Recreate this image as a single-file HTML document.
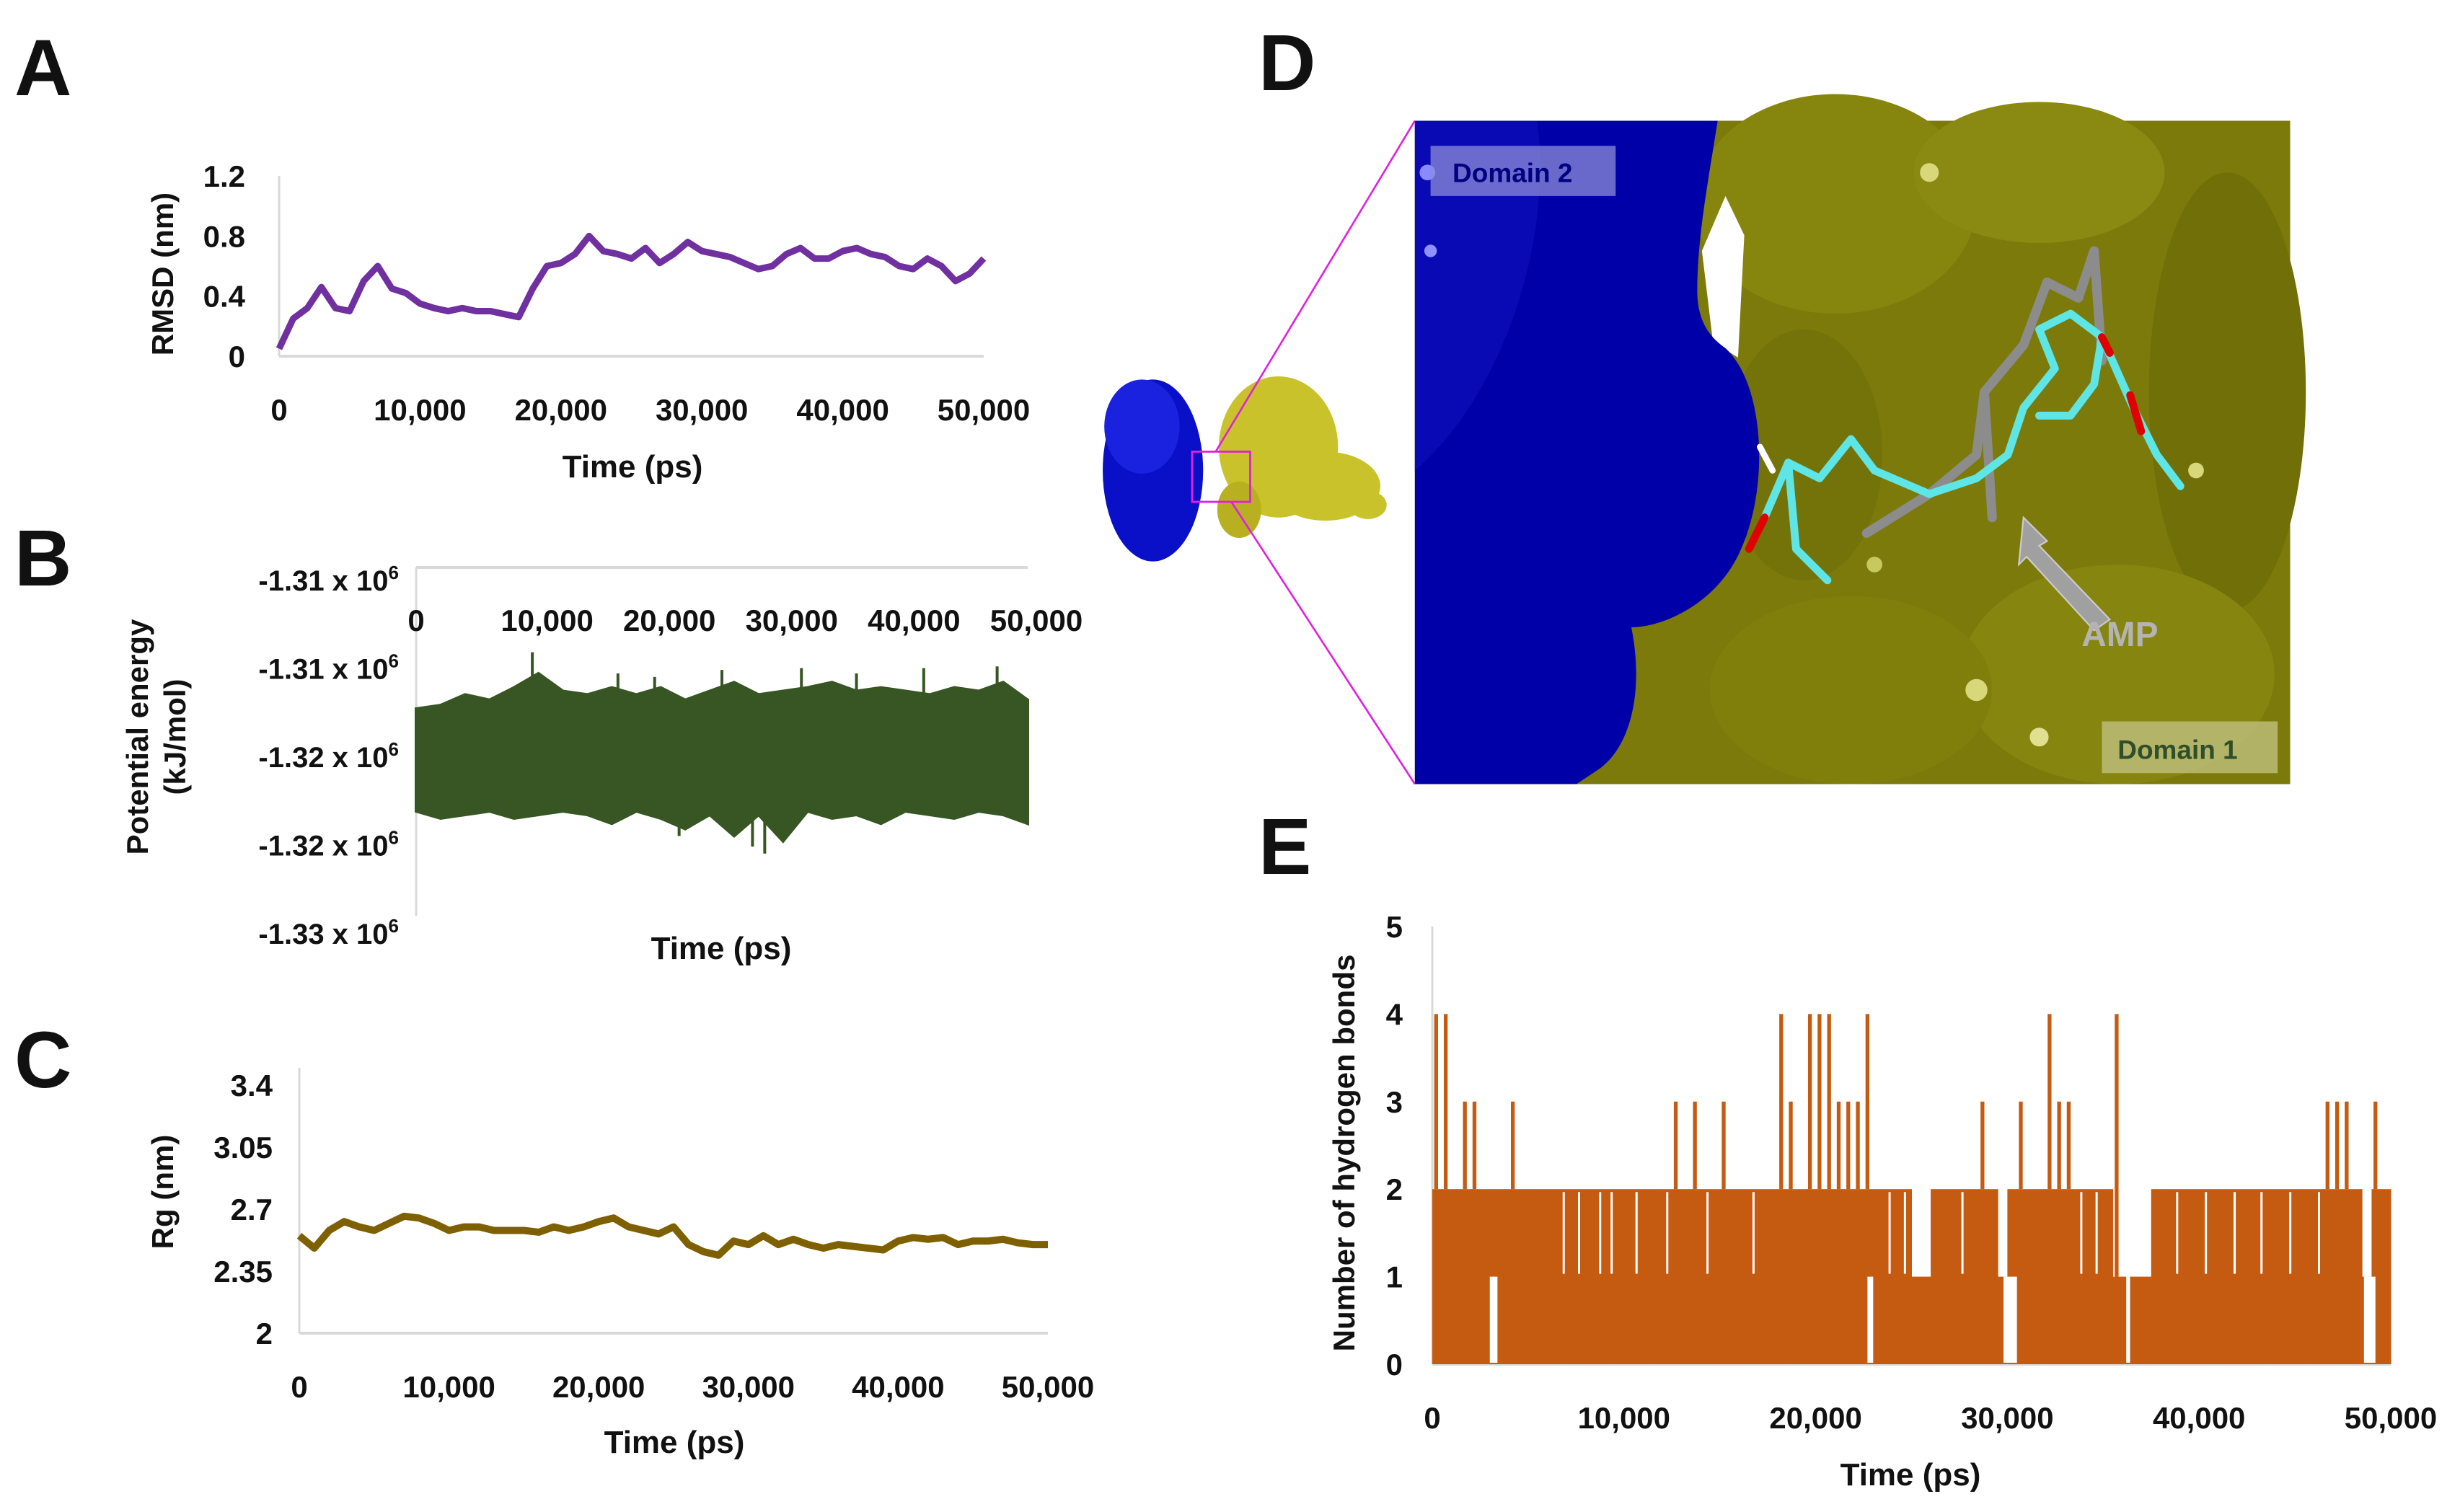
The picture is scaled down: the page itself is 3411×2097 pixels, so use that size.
<!DOCTYPE html>
<html><head><meta charset="utf-8"><style>
html,body{margin:0;padding:0;background:#fff}
svg{display:block}
text{font-family:"Liberation Sans",sans-serif;font-weight:bold;fill:#111}
</style></head><body>
<svg id="fig" width="3411" height="2097" viewBox="0 0 3411 2097" xmlns="http://www.w3.org/2000/svg">
<rect width="3411" height="2097" fill="#fff"/>
<text x="20" y="132" font-size="110">A</text>
<text x="20" y="812" font-size="110">B</text>
<text x="20" y="1508" font-size="110">C</text>
<text x="1745" y="125" font-size="110">D</text>
<text x="1745" y="1212" font-size="110">E</text>
<g id="gA"></g>
<g id="gB"></g>
<g id="gC"></g>
<g id="gE"></g>
<g id="gD" transform="scale(2.175)">
  <g>
    <ellipse cx="735" cy="300" rx="32" ry="58" fill="#0a10c8"/>
    <ellipse cx="728" cy="272" rx="24" ry="30" fill="#1a22e0"/>
    <ellipse cx="815" cy="285" rx="38" ry="45" fill="#c9c22a"/>
    <ellipse cx="845" cy="310" rx="35" ry="22" fill="#c9c22a"/>
    <ellipse cx="872" cy="322" rx="12" ry="9" fill="#c9c22a"/>
    <ellipse cx="790" cy="325" rx="14" ry="18" fill="#b8b020"/>
  </g>
  <rect x="760" y="288" width="37" height="32" fill="none" stroke="#e020e0" stroke-width="1.3"/>
  <line x1="775" y1="288" x2="902" y2="77" stroke="#e020e0" stroke-width="1.2"/>
  <line x1="785" y1="320" x2="902" y2="500" stroke="#e020e0" stroke-width="1.2"/>
  <g>
    <rect x="902" y="77" width="558" height="423" fill="#7b7a0a"/>
    <ellipse cx="1170" cy="130" rx="90" ry="70" fill="#86850e"/>
    <ellipse cx="1300" cy="110" rx="80" ry="45" fill="#8a8912"/>
    <ellipse cx="1420" cy="250" rx="50" ry="140" fill="#706f08"/>
    <ellipse cx="1350" cy="430" rx="100" ry="70" fill="#86850f"/>
    <ellipse cx="1180" cy="440" rx="90" ry="60" fill="#807f0c"/>
    <ellipse cx="1150" cy="290" rx="50" ry="80" fill="#747309"/>
    <circle cx="1230" cy="110" r="6" fill="#d8d87a"/>
    <circle cx="1400" cy="300" r="5" fill="#d8d87a"/>
    <circle cx="1260" cy="440" r="7" fill="#d8d87a"/>
    <circle cx="1300" cy="470" r="6" fill="#e0e090"/>
    <circle cx="1195" cy="360" r="5" fill="#c8c860"/>
    <path d="M1085,160 L1100,125 L1112,150 L1108,228 L1092,218 Z" fill="#ffffff"/>
    <path d="M902,77 L1095,77 C1090,110 1082,150 1082,185 C1082,205 1090,215 1100,222 C1125,245 1128,310 1110,350 C1095,385 1060,400 1040,400 C1048,440 1040,475 1020,490 L1005,500 L902,500 Z" fill="#0000a8"/>
    <path d="M902,77 L980,77 C990,150 960,250 902,300 Z" fill="#0a0ab4"/>
    <circle cx="912" cy="160" r="4" fill="#9090ff"/>
    <circle cx="910" cy="110" r="5" fill="#8a8aff"/>
    <g fill="none" stroke-linecap="round" stroke-linejoin="round">
      <polyline points="1190,340 1230,315 1260,290 1265,250 1290,220 1305,180" stroke="#8c8c8c" stroke-width="6"/>
      <polyline points="1265,250 1270,330" stroke="#8c8c8c" stroke-width="6"/>
      <polyline points="1305,180 1325,190 1335,160 1340,230" stroke="#8c8c8c" stroke-width="6"/>
      <polyline points="1125,330 1140,295 1160,305 1180,280 1195,300 1230,315" stroke="#5ee6e6" stroke-width="5"/>
      <polyline points="1140,295 1145,350 1165,370" stroke="#5ee6e6" stroke-width="5"/>
      <polyline points="1230,315 1260,305 1280,290 1290,260 1310,235 1300,210 1320,200 1340,215 1335,245 1320,265 1300,265" stroke="#5ee6e6" stroke-width="5"/>
      <polyline points="1340,215 1360,260 1375,290 1390,310" stroke="#5ee6e6" stroke-width="5"/>
      <polyline points="1115,350 1125,330" stroke="#e00000" stroke-width="5"/>
      <polyline points="1340,215 1345,225" stroke="#e00000" stroke-width="5"/>
      <polyline points="1358,252 1365,275" stroke="#e00000" stroke-width="5"/>
      <polyline points="1122,285 1130,300 M1395,315 1405,300 M1160,370 1162,385 M1280,220 1295,210" stroke="#ffffff" stroke-width="4"/>
    </g>
    <polygon points="1290,330 1305,345 1300,348 1345,395 1335,402 1292,355 1287,360" fill="#a0a0a0" stroke="#ccc" stroke-width="1"/>
    <text x="1327" y="412" font-size="22" style="fill:#b4b4b4">AMP</text>
    <rect x="912" y="93" width="118" height="32" fill="#8c8cd8" opacity="0.75"/>
    <text x="926" y="116" font-size="17" style="fill:#000080">Domain 2</text>
    <rect x="1340" y="460" width="112" height="33" fill="#bcbc78" opacity="0.85"/>
    <text x="1350" y="484" font-size="17" style="fill:#2f4f2a">Domain 1</text>
  </g>
</g>
</svg>
<script>
const NS="http://www.w3.org/2000/svg";
// ---- data ----
const timeTicks=[0,10000,20000,30000,40000,50000];
const timeTickLabels=["0","10,000","20,000","30,000","40,000","50,000"];
const rmsdTime=[0,1000,2000,3000,4000,5000,6000,7000,8000,9000,10000,11000,12000,13000,14000,15000,16000,17000,18000,19000,20000,21000,22000,23000,24000,25000,26000,27000,28000,29000,30000,31000,32000,33000,34000,35000,36000,37000,38000,39000,40000,41000,42000,43000,44000,45000,46000,47000,48000,49000,50000];
const rmsdValues=[0.05,0.25,0.32,0.46,0.32,0.3,0.5,0.6,0.45,0.42,0.35,0.32,0.3,0.32,0.3,0.3,0.28,0.26,0.45,0.6,0.62,0.68,0.8,0.7,0.68,0.65,0.72,0.62,0.68,0.76,0.7,0.68,0.66,0.62,0.58,0.6,0.68,0.72,0.65,0.65,0.7,0.72,0.68,0.66,0.6,0.58,0.65,0.6,0.5,0.55,0.65];
const rmsdTicks=[0,0.4,0.8,1.2];
const rmsdTickLabels=["0","0.4","0.8","1.2"];
const rgValues=[2.55,2.48,2.58,2.63,2.6,2.58,2.62,2.66,2.65,2.62,2.58,2.6,2.6,2.58,2.58,2.58,2.57,2.6,2.58,2.6,2.63,2.65,2.6,2.58,2.56,2.6,2.5,2.46,2.44,2.52,2.5,2.55,2.5,2.53,2.5,2.48,2.5,2.49,2.48,2.47,2.52,2.54,2.53,2.54,2.5,2.52,2.52,2.53,2.51,2.5,2.5];
const rgTicks=[2,2.35,2.7,3.05,3.4];
const rgTickLabels=["2","2.35","2.7","3.05","3.4"];
const peTime=[0,2000,4000,6000,8000,10000,12000,14000,16000,18000,20000,22000,24000,26000,28000,30000,32000,34000,36000,38000,40000,42000,44000,46000,48000,50000];
const peTop=[-1.3180,-1.3178,-1.3172,-1.3175,-1.3168,-1.3160,-1.3170,-1.3172,-1.3168,-1.3172,-1.3168,-1.3175,-1.3170,-1.3165,-1.3172,-1.3170,-1.3168,-1.3165,-1.3170,-1.3168,-1.3170,-1.3172,-1.3168,-1.3170,-1.3165,-1.3175];
const peBottom=[-1.3238,-1.3242,-1.3240,-1.3238,-1.3242,-1.3240,-1.3238,-1.3240,-1.3245,-1.3238,-1.3242,-1.3248,-1.3240,-1.3252,-1.3240,-1.3255,-1.3238,-1.3242,-1.3240,-1.3245,-1.3238,-1.3240,-1.3242,-1.3238,-1.3240,-1.3245];
const peSpikeTime=[9500,16500,19500,25000,31500,36000,41500,47500,21500,27500,28500];
const peSpikeValue=[-1.3148,-1.3160,-1.3162,-1.3158,-1.3157,-1.3160,-1.3157,-1.3156,-1.3252,-1.3258,-1.3262];
const peTicks=[-1.31,-1.315,-1.32,-1.325,-1.33];
const peTickLabels=["-1.31","-1.31","-1.32","-1.32","-1.33"];
const hbBinStart=[0,500,1000,1500,2000,2500,3000,3500,4000,4500,5000,5500,6000,6500,7000,7500,8000,8500,9000,9500,10000,10500,11000,11500,12000,12500,13000,13500,14000,14500,15000,15500,16000,16500,17000,17500,18000,18500,19000,19500,20000,20500,21000,21500,22000,22500,23000,23500,24000,24500,25000,25500,26000,26500,27000,27500,28000,28500,29000,29500,30000,30500,31000,31500,32000,32500,33000,33500,34000,34500,35000,35500,36000,36500,37000,37500,38000,38500,39000,39500,40000,40500,41000,41500,42000,42500,43000,43500,44000,44500,45000,45500,46000,46500,47000,47500,48000,48500,49000,49500];
const hbBase=[2,2,2,2,2,2,2,2,2,2,2,2,2,2,2,2,2,2,2,2,2,2,2,2,2,2,2,2,2,2,2,2,2,2,2,2,2,2,2,2,2,2,2,2,2,2,2,2,2,2,1,1,2,2,2,2,2,2,2,1,2,2,2,2,2,2,2,2,2,2,2,1,1,1,1,2,2,2,2,2,2,2,2,2,2,2,2,2,2,2,2,2,2,2,2,2,2,1,2,2];
const hbPeak=[4,4,0,3,3,0,0,0,3,0,0,0,0,0,0,0,0,0,0,0,0,0,0,0,0,3,0,3,0,0,3,0,0,0,0,0,4,3,0,4,4,4,3,3,3,4,0,0,0,0,0,0,0,0,0,0,0,3,0,0,0,3,0,0,4,3,3,0,0,0,0,4,0,0,0,0,0,0,0,0,0,0,0,0,0,0,0,0,0,0,0,0,0,3,3,3,0,0,3,0];
const hbGapStart=[3000,22700,29800,48600,36200];
const hbGapEnd=[3400,23000,30500,49200,36400];
const hbUpperGapTime=[6800,7600,8700,9300,10600,12200,14300,16700,23800,24600,27600,33800,34600,38800,40300,41800,43200,44700,46200];
const hbTicks=[0,1,2,3,4,5];
// ---- helpers ----
function mk(p,tag,attrs){const e=document.createElementNS(NS,tag);for(const k in attrs)e.setAttribute(k,attrs[k]);p.appendChild(e);return e;}
function txt(p,x,y,s,size,anchor){const t=mk(p,"text",{x:x,y:y,"font-size":size,"text-anchor":anchor||"middle"});t.textContent=s;return t;}
function lin(d0,d1,r0,r1){return v=>r0+(v-d0)/(d1-d0)*(r1-r0);}
const AX="#d9d9d9";
// ---- Panel A ----
(function(){
 const g=document.getElementById("gA");
 const x=lin(0,50000,387,1364), y=lin(0,1.2,494,244);
 const ax=mk(g,"line",{x1:387,y1:244,x2:387,y2:494,stroke:AX,"stroke-width":3});
 
 const bx=mk(g,"line",{x1:387,y1:494,x2:1364,y2:494,stroke:AX,"stroke-width":4});
 
 rmsdTicks.forEach((v,i)=>{const t=txt(g,340,y(v)+15,rmsdTickLabels[i],42,"end");
  });
 timeTicks.forEach((v,i)=>{const t=txt(g,x(v),583,timeTickLabels[i],42);
  });
 const pl=mk(g,"polyline",{points:rmsdTime.map((t,i)=>x(t)+","+y(rmsdValues[i])).join(" "),fill:"none",stroke:"#7030a0","stroke-width":9,"stroke-linejoin":"round"});
 
 const xt=txt(g,877,662,"Time (ps)",44);
 const yt=txt(g,0,0,"RMSD (nm)",42);yt.setAttribute("transform","translate(240,380) rotate(-90)");
 
})();
// ---- Panel B ----
(function(){
 const g=document.getElementById("gB");
 const x=lin(0,50000,577,1425), y=lin(-1.31,-1.33,787,1277);
 const ax=mk(g,"line",{x1:577,y1:787,x2:577,y2:1270,stroke:AX,"stroke-width":3});
 
 const bx=mk(g,"line",{x1:577,y1:787,x2:1425,y2:787,stroke:AX,"stroke-width":4});
 
 peTicks.forEach((v,i)=>{const t=mk(g,"text",{x:553,y:y(v)+32,"font-size":40,"text-anchor":"end"});
  t.textContent=peTickLabels[i]+" x 10";const s=mk(t,"tspan",{dy:-16,"font-size":26});s.textContent="6";
  });
 timeTicks.forEach((v,i)=>{const t=txt(g,x(v)+(i?12:0),875,timeTickLabels[i],42);
  });
 const pts=peTime.map((t,i)=>x(t)+","+y(peTop[i])).concat(peTime.slice().reverse().map((t,j)=>x(t)+","+y(peBottom[peTime.length-1-j])));
 const band=mk(g,"polygon",{points:pts.join(" "),fill:"#375623",stroke:"#375623","stroke-width":4});
 
 peSpikeTime.forEach((t,i)=>{const l=mk(g,"line",{x1:x(t),x2:x(t),y1:y(-1.3205),y2:y(peSpikeValue[i]),stroke:"#375623","stroke-width":4});
  });
 const xt=txt(g,1000,1330,"Time (ps)",44);
 const yt=txt(g,0,0,"Potential energy",42);yt.setAttribute("transform","translate(205,1022) rotate(-90)");
 
 const yt2=txt(g,0,0,"(kJ/mol)",42);yt2.setAttribute("transform","translate(257,1022) rotate(-90)");
 
})();
// ---- Panel C ----
(function(){
 const g=document.getElementById("gC");
 const x=lin(0,50000,415,1453), y=lin(2,3.4,1849,1505);
 const ax=mk(g,"line",{x1:415,y1:1481,x2:415,y2:1849,stroke:AX,"stroke-width":3});
 
 const bx=mk(g,"line",{x1:415,y1:1849,x2:1453,y2:1849,stroke:AX,"stroke-width":4});
 
 rgTicks.forEach((v,i)=>{const t=txt(g,378,y(v)+15,rgTickLabels[i],42,"end");
  });
 timeTicks.forEach((v,i)=>{const t=txt(g,x(v),1938,timeTickLabels[i],42);
  });
 const pl=mk(g,"polyline",{points:rmsdTime.map((t,i)=>x(t)+","+y(rgValues[i])).join(" "),fill:"none",stroke:"#7f6000","stroke-width":10,"stroke-linejoin":"round"});
 
 const xt=txt(g,935,2015,"Time (ps)",44);
 const yt=txt(g,0,0,"Rg (nm)",42);yt.setAttribute("transform","translate(240,1653) rotate(-90)");
 
})();
// ---- Panel E ----
(function(){
 const g=document.getElementById("gE");
 const x=lin(0,50000,1986,3315), y=lin(0,5,1892,1285);
 const ax=mk(g,"line",{x1:1986,y1:1285,x2:1986,y2:1892,stroke:AX,"stroke-width":3});
 
 const bx=mk(g,"line",{x1:1986,y1:1892,x2:3315,y2:1892,stroke:AX,"stroke-width":4});
 
 hbTicks.forEach(v=>{const t=txt(g,1945,y(v)+15,String(v),42,"end");
  });
 timeTicks.forEach((v,i)=>{const t=txt(g,x(v),1981,timeTickLabels[i],42);
  });
 const bw=x(500)-x(0);
 hbBinStart.forEach((t,i)=>{const r=mk(g,"rect",{x:x(t),y:y(hbBase[i]),width:bw+0.5,height:y(0)-y(hbBase[i]),fill:"#c55a11"});
  
  if(hbPeak[i]>0){const l=mk(g,"rect",{x:x(t)+bw*0.2,y:y(hbPeak[i]),width:Math.max(4,bw*0.4),height:y(hbBase[i])-y(hbPeak[i]),fill:"#c55a11"});
   }});
 hbUpperGapTime.forEach(t=>{const r=mk(g,"rect",{x:x(t),y:y(2)+4,width:3,height:y(1)-y(2)-8,fill:"#fff"});
  });
 hbGapStart.forEach((s,i)=>{const r=mk(g,"rect",{x:x(s),y:y(1),width:x(hbGapEnd[i])-x(s),height:y(0)-y(1)-2,fill:"#fff"});
  });
 const xt=txt(g,2649,2060,"Time (ps)",44);
 const yt=txt(g,0,0,"Number of hydrogen bonds",42);yt.setAttribute("transform","translate(1878,1599) rotate(-90)");
 
})();
</script>
</body></html>
